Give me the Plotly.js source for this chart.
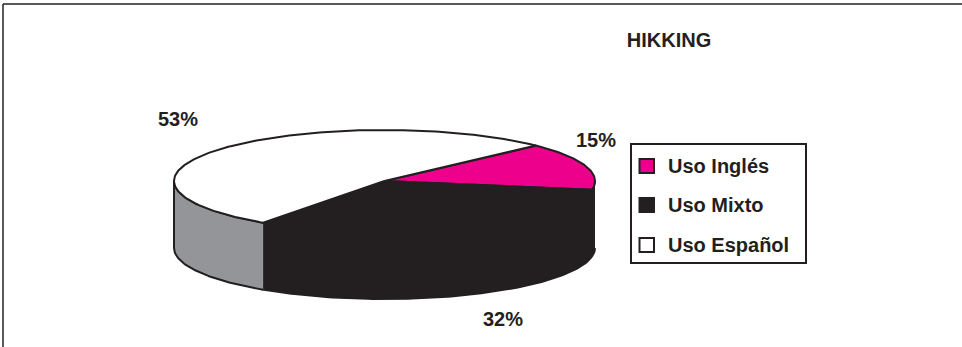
<!DOCTYPE html>
<html><head><meta charset="utf-8">
<script src="https://cdn.plot.ly/plotly-3.0.1.min.js"></script>
<style>html,body{margin:0;padding:0;background:#fff;}#chart{width:962px;height:347px;}</style>
</head><body><div id="chart"></div>
<script>
// ---- data ----
const chartTitle = 'HIKKING';
const categories = ['Uso Inglés', 'Uso Mixto', 'Uso Español'];
const values = [15, 32, 53];

// ---- styles / layout ----
const topColors = ['#EC008C', '#231F20', '#FFFFFF'];
const sideColors = ['#231F20', '#231F20', '#939598'];
const labelPos = [[596, 140], [503, 319], [178, 119]];
const INK = '#231F20';
const FONT = 'Liberation Sans, Arial, Helvetica, sans-serif';
const G = {cx: 384.5, cy: 181, a: 210.5, b: 51, depth: 67, start: 44};

const total = values.reduce((s, v) => s + v, 0);
const rad = d => d * Math.PI / 180;
function ex(t) { return G.cx + G.a * Math.cos(rad(t)); }
function ey(t, dy) { return G.cy - G.b * Math.sin(rad(t)) + (dy || 0); }
function arc(from, to, dy) {
  const xs = [], ys = [];
  const n = Math.max(2, Math.ceil(Math.abs(to - from)));
  for (let k = 0; k <= n; k++) {
    const t = from + (to - from) * k / n;
    xs.push(ex(t)); ys.push(ey(t, dy));
  }
  return [xs, ys];
}

let cur = G.start;
const slices = values.map((v, i) => {
  const t1 = cur, t2 = cur - v / total * 360;
  cur = t2;
  return {t1, t2, i};
});

const traces = [];
// sides (front half only)
slices.forEach(s => {
  const hi = Math.min(s.t1, 0), lo = Math.max(s.t2, -180);
  if (lo < hi) {
    const [x1, y1] = arc(hi, lo, 0);
    const [x2, y2] = arc(lo, hi, G.depth);
    traces.push({
      type: 'scatter', mode: 'lines', x: x1.concat(x2), y: y1.concat(y2),
      fill: 'toself', fillcolor: sideColors[s.i],
      line: {color: INK, width: 2}, hoverinfo: 'skip', showlegend: false
    });
  }
});
// top faces
slices.forEach(s => {
  const [xa, ya] = arc(s.t1, s.t2, 0);
  traces.push({
    type: 'scatter', mode: 'lines',
    x: [G.cx].concat(xa, [G.cx]), y: [G.cy].concat(ya, [G.cy]),
    fill: 'toself', fillcolor: topColors[s.i],
    line: {color: INK, width: 2}, name: categories[s.i],
    text: values[s.i] + '%', hoverinfo: 'name+text', showlegend: false
  });
});

const annotations = values.map((v, i) => ({
  x: labelPos[i][0], y: labelPos[i][1], xref: 'x', yref: 'y',
  text: v + '%', showarrow: false, xanchor: 'center', yanchor: 'middle',
  font: {family: FONT, size: 20, weight: 700, color: INK}
}));

// frame + manual legend
const shapes = [
  {type: 'line', xref: 'x', yref: 'y', x0: 3, y0: 4, x1: 962, y1: 4, line: {color: '#222', width: 1.5}},
  {type: 'line', xref: 'x', yref: 'y', x0: 3, y0: 4, x1: 3, y1: 347, line: {color: '#222', width: 1.5}},
  {type: 'rect', xref: 'x', yref: 'y', x0: 631, y0: 144, x1: 806, y1: 263, line: {color: INK, width: 2}, fillcolor: 'rgba(0,0,0,0)'}
];
const legY = [166, 205, 245];
categories.forEach((c, i) => {
  shapes.push({type: 'rect', xref: 'x', yref: 'y', x0: 639.5, x1: 654, y0: legY[i] - 7, y1: legY[i] + 7,
    line: {color: INK, width: 2}, fillcolor: topColors[i]});
  annotations.push({x: 666, y: legY[i], xref: 'x', yref: 'y', text: c, showarrow: false,
    xanchor: 'left', yanchor: 'middle', font: {family: FONT, size: 20, weight: 700, color: INK}});
});

const layout = {
  width: 962, height: 347,
  margin: {l: 0, r: 0, t: 0, b: 0},
  paper_bgcolor: '#fff', plot_bgcolor: '#fff',
  title: {text: chartTitle, x: 669 / 962, xanchor: 'center', y: 1 - 40 / 347, yanchor: 'middle',
    font: {family: FONT, size: 20, weight: 700, color: INK}},
  xaxis: {range: [0, 962], visible: false, fixedrange: true},
  yaxis: {range: [347, 0], visible: false, fixedrange: true},
  showlegend: false,
  annotations: annotations,
  shapes: shapes
};
Plotly.newPlot('chart', traces, layout, {displayModeBar: false, staticPlot: true});
</script>
</body></html>
